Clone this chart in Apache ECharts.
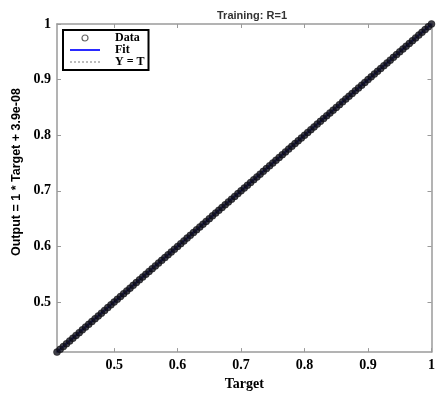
<!DOCTYPE html>
<html>
<head>
<meta charset="utf-8">
<script src="https://cdn.jsdelivr.net/npm/echarts@6/dist/echarts.min.js"></script>
<style>html,body{margin:0;padding:0;background:#fff}#chart{width:438px;height:396px}</style>
</head>
<body>
<div id="chart"></div>
<script>
// training targets and network outputs (R=1, outputs sit on the targets)
var targets = [0.410, 0.415, 0.420, 0.425, 0.430, 0.435, 0.440, 0.445, 0.450, 0.455, 0.460, 0.465,
  0.470, 0.475, 0.480, 0.485, 0.490, 0.495, 0.500, 0.505, 0.510, 0.515, 0.520, 0.525, 0.530, 0.535,
  0.540, 0.545, 0.550, 0.555, 0.560, 0.565, 0.570, 0.575, 0.580, 0.585, 0.590, 0.595, 0.600, 0.605,
  0.610, 0.615, 0.620, 0.625, 0.630, 0.635, 0.640, 0.645, 0.650, 0.655, 0.660, 0.665, 0.670, 0.675,
  0.680, 0.685, 0.690, 0.695, 0.700, 0.705, 0.710, 0.715, 0.720, 0.725, 0.730, 0.735, 0.740, 0.745,
  0.750, 0.755, 0.760, 0.765, 0.770, 0.775, 0.780, 0.785, 0.790, 0.795, 0.800, 0.805, 0.810, 0.815,
  0.820, 0.825, 0.830, 0.835, 0.840, 0.845, 0.850, 0.855, 0.860, 0.865, 0.870, 0.875, 0.880, 0.885,
  0.890, 0.895, 0.900, 0.905, 0.910, 0.915, 0.920, 0.925, 0.930, 0.935, 0.940, 0.945, 0.950, 0.955,
  0.960, 0.965, 0.970, 0.975, 0.980, 0.985, 0.990, 0.995, 1.000];
var outputs = [0.410, 0.415, 0.420, 0.425, 0.430, 0.435, 0.440, 0.445, 0.450, 0.455, 0.460, 0.465,
  0.470, 0.475, 0.480, 0.485, 0.490, 0.495, 0.500, 0.505, 0.510, 0.515, 0.520, 0.525, 0.530, 0.535,
  0.540, 0.545, 0.550, 0.555, 0.560, 0.565, 0.570, 0.575, 0.580, 0.585, 0.590, 0.595, 0.600, 0.605,
  0.610, 0.615, 0.620, 0.625, 0.630, 0.635, 0.640, 0.645, 0.650, 0.655, 0.660, 0.665, 0.670, 0.675,
  0.680, 0.685, 0.690, 0.695, 0.700, 0.705, 0.710, 0.715, 0.720, 0.725, 0.730, 0.735, 0.740, 0.745,
  0.750, 0.755, 0.760, 0.765, 0.770, 0.775, 0.780, 0.785, 0.790, 0.795, 0.800, 0.805, 0.810, 0.815,
  0.820, 0.825, 0.830, 0.835, 0.840, 0.845, 0.850, 0.855, 0.860, 0.865, 0.870, 0.875, 0.880, 0.885,
  0.890, 0.895, 0.900, 0.905, 0.910, 0.915, 0.920, 0.925, 0.930, 0.935, 0.940, 0.945, 0.950, 0.955,
  0.960, 0.965, 0.970, 0.975, 0.980, 0.985, 0.990, 0.995, 1.000];
var fitLine = [[0.41, 0.41], [1, 1]];
var identityLine = [[0.41, 0.41], [1, 1]];
var ticks = [0.5, 0.6, 0.7, 0.8, 0.9, 1];
var axisMin = 0.41, axisMax = 1;

var chart = echarts.init(document.getElementById('chart'));
var scatterData = [];
for (var i = 0; i < targets.length; i++) {
  scatterData.push([targets[i], outputs[i]]);
}
var serif = 'Liberation Serif';
var tickFont = {fontFamily: serif, fontWeight: 'bold', fontSize: 14, color: '#000'};
function fmt(v) { return v === 1 ? '1' : String(v); }
var gray = '#9a9a9a';

chart.setOption({
  animation: false,
  title: {
    text: 'Training: R=1',
    left: 247, top: 5, textAlign: 'center',
    textStyle: {fontFamily: 'Liberation Sans', fontWeight: 'bold', fontSize: 11, color: '#333'}
  },
  legend: {
    orient: 'vertical',
    left: 63, top: 30,
    padding: [2, 4, 2, 6],
    borderColor: '#000', borderWidth: 2,
    itemWidth: 30, itemHeight: 6, itemGap: 0,
    textStyle: {fontFamily: serif, fontWeight: 'bold', fontSize: 12, lineHeight: 12, color: '#000', padding: [0, 0, 0, 10]},
    data: [
      {name: 'Data', icon: 'circle', itemStyle: {color: '#fff', borderColor: '#666', borderWidth: 1.2, opacity: 1}},
      {name: 'Fit', itemStyle: {opacity: 0}},
      {name: 'Y = T', itemStyle: {opacity: 0}}
    ]
  },
  grid: {left: 57, right: 1, top: 24, bottom: 34},
  xAxis: [{
    type: 'value', min: axisMin, max: axisMax,
    name: 'Target', nameLocation: 'middle', nameGap: 24,
    nameTextStyle: {fontFamily: serif, fontWeight: 'bold', fontSize: 14, color: '#000'},
    axisLine: {show: true, lineStyle: {color: gray, width: 1.5}},
    axisTick: {show: true, inside: true, length: 4, customValues: ticks, lineStyle: {color: gray}},
    axisLabel: Object.assign({customValues: ticks, formatter: fmt, margin: 6}, tickFont),
    splitLine: {show: false}
  }, {
    type: 'value', min: axisMin, max: axisMax, position: 'top',
    axisLine: {show: true, lineStyle: {color: gray, width: 1.5}},
    axisTick: {show: true, inside: true, length: 4, customValues: ticks, lineStyle: {color: gray}},
    axisLabel: {show: false}, splitLine: {show: false}
  }],
  yAxis: [{
    type: 'value', min: axisMin, max: axisMax,
    name: 'Output = 1 * Target + 3.9e-08', nameLocation: 'middle', nameGap: 34,
    nameTextStyle: {fontFamily: 'Liberation Sans', fontWeight: 'bold', fontSize: 12.5, color: '#000', padding: [0, 0, 0, 32]},
    axisLine: {show: true, lineStyle: {color: gray, width: 1.5}},
    axisTick: {show: true, inside: true, length: 4, customValues: ticks, lineStyle: {color: gray}},
    axisLabel: Object.assign({customValues: ticks, formatter: fmt, margin: 6}, tickFont),
    splitLine: {show: false}
  }, {
    type: 'value', min: axisMin, max: axisMax, position: 'right',
    axisLine: {show: true, lineStyle: {color: gray, width: 1.5}},
    axisTick: {show: true, inside: true, length: 4, customValues: ticks, lineStyle: {color: gray}},
    axisLabel: {show: false}, splitLine: {show: false}
  }],
  series: [{
    name: 'Y = T', type: 'line', data: identityLine, symbol: 'none',
    lineStyle: {color: '#bbb', width: 1, type: 'dotted'}, z: 1
  }, {
    name: 'Fit', type: 'line', data: fitLine, symbol: 'none',
    lineStyle: {color: '#2a2aff', width: 2}, z: 2
  }, {
    name: 'Data', type: 'scatter', data: scatterData,
    symbol: 'circle', symbolSize: 7,
    itemStyle: {color: '#10101c', borderColor: '#000', borderWidth: 0.5}, z: 3
  }]
});
</script>
</body>
</html>
